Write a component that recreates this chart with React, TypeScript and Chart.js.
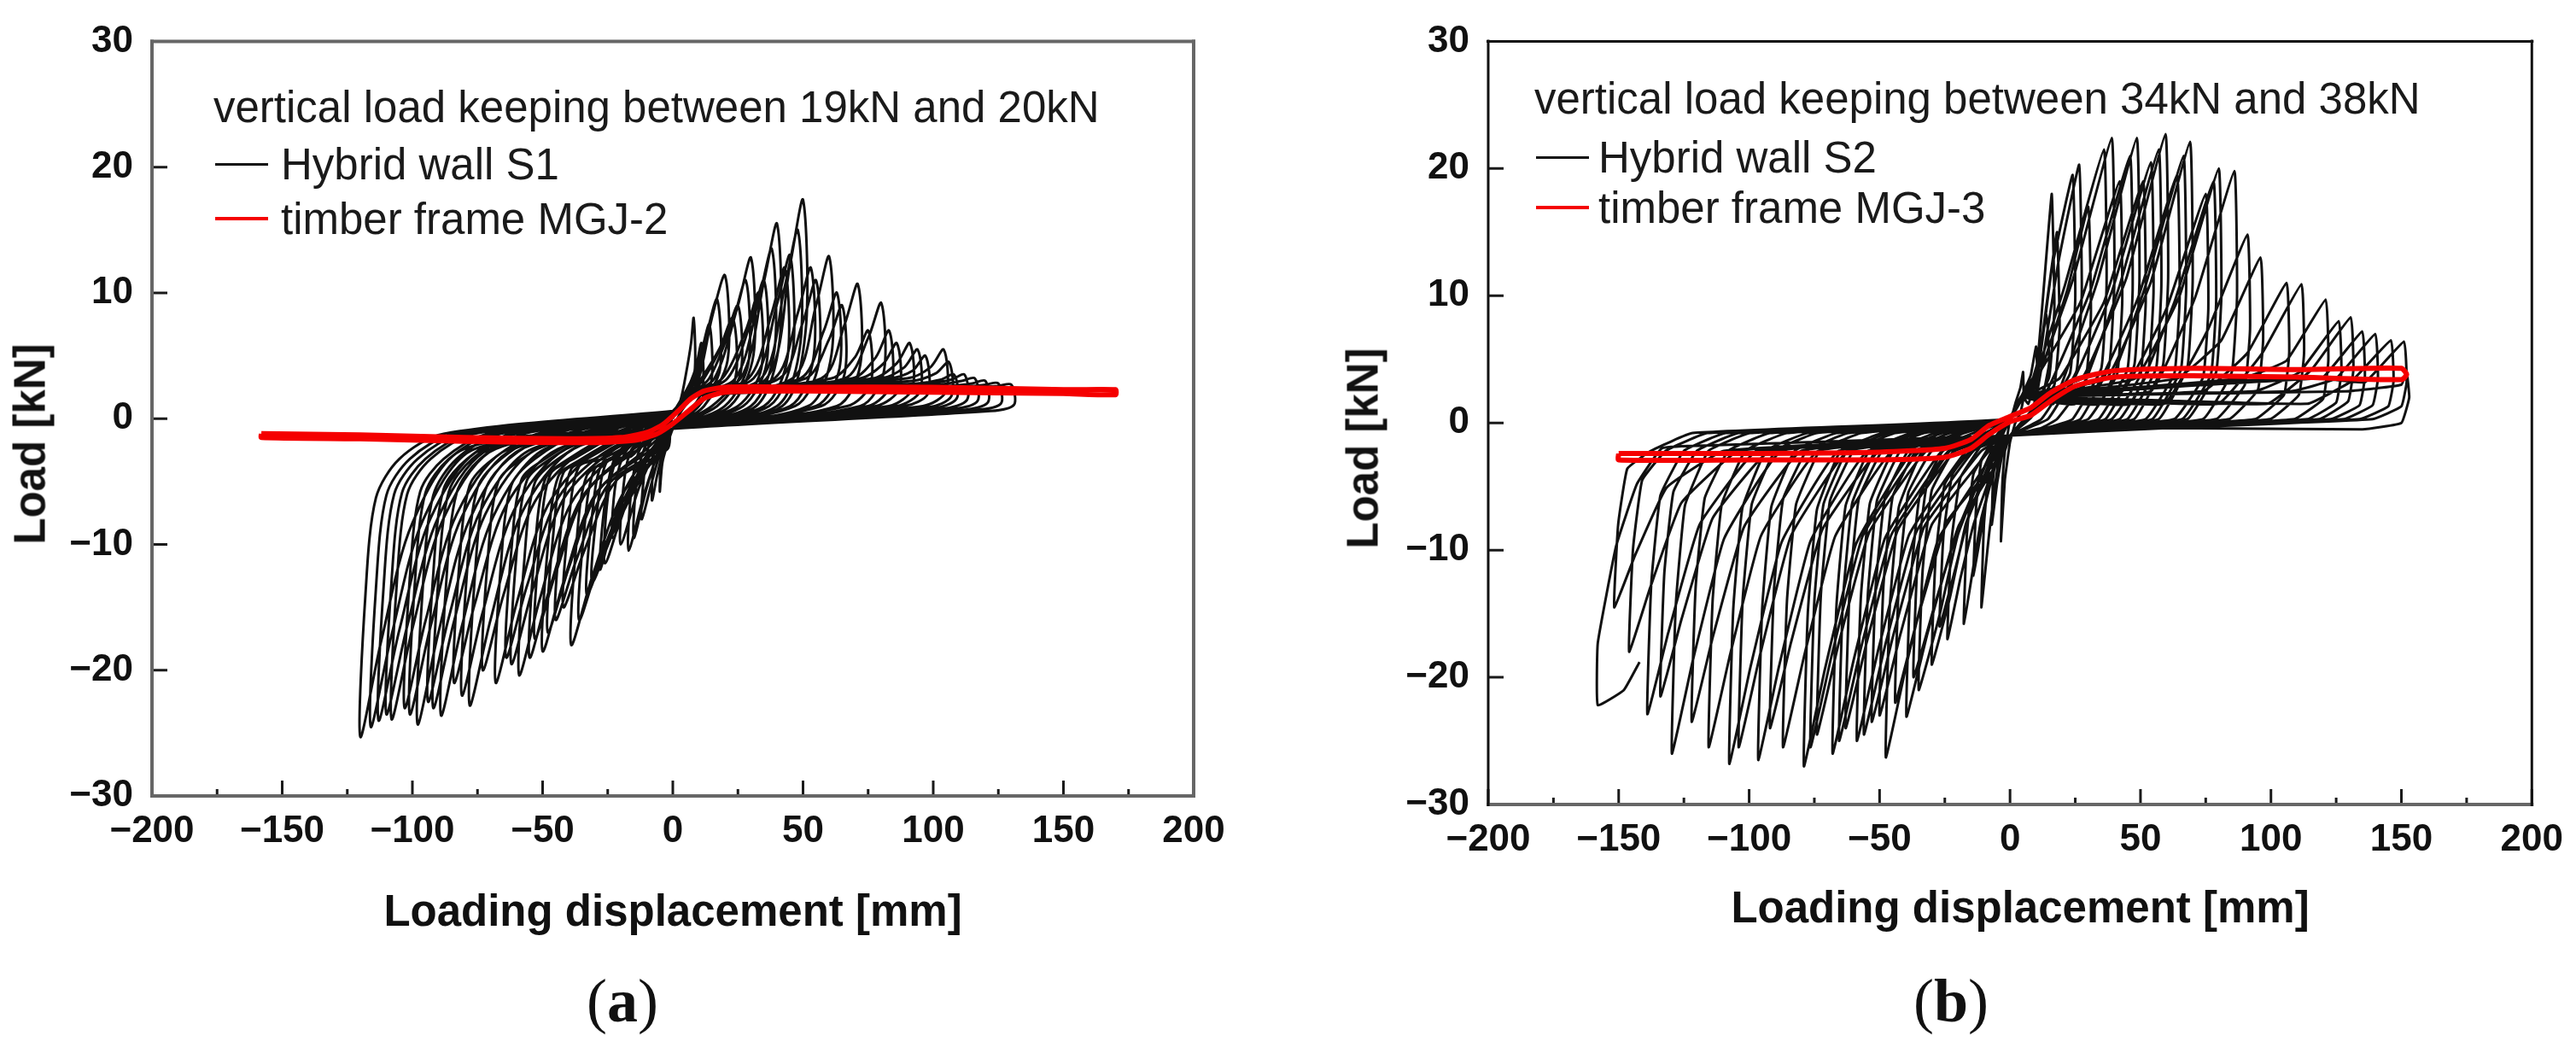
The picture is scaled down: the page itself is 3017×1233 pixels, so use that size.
import React, { useEffect, useRef } from 'react';
import Chart from 'chart.js/auto';

type Pt = [number, number];

// axis ticks, shared by both panels
const xTicks = [-200, -150, -100, -50, 0, 50, 100, 150, 200];
const xMinorTicks = [-175, -125, -75, -25, 25, 75, 125, 175];
const yTicks = [-30, -20, -10, 0, 10, 20, 30];

const legendTitleA = 'vertical load keeping between 19kN and 20kN';
const legendTitleB = 'vertical load keeping between 34kN and 38kN';
const seriesNamesA = ['Hybrid wall S1', 'timber frame MGJ-2'];
const seriesNamesB = ['Hybrid wall S2', 'timber frame MGJ-3'];

// (a) hybrid wall S1, one array per loading cycle [mm, kN]
const s1Cycles: Pt[][] = [
    [[0, 0], [3, 1.5], [5, 3.5], [7, 6], [8, 8], [8.5, 4], [6, 1.5], [3, 0.5], [0, -0.8], [-2, -2], [-4, -3.5], [-5, -5.8], [-4.5, -3], [-3, -1.5], [-1, -0.6], [0, 0.3]],
    [[4, 1.8], [7, 3], [9, 4.2], [11, 6], [11.5, 2.4], [8, 1], [0, -0.8], [-3, -2], [-6, -4.5], [-8, -6.5], [-7.5, -3.6], [-6, -1.6], [-3, -0.8], [0, 0.4]],
    [[4, 1.8], [8, 3.2], [11, 5.3], [14, 7.5], [14.8, 3], [9, 1], [0, -0.8], [-4, -2.2], [-8, -5], [-12, -8], [-11, -4.4], [-9, -2], [-5, -0.9], [0, 0.4]],
    [[5, 1.8], [9, 3.2], [13, 6.7], [17, 9.5], [18, 3.8], [10, 1], [0, -0.8], [-5, -2.3], [-10, -5.5], [-15, -9.5], [-14, -5.2], [-11, -2.4], [-6, -1], [0, 0.5]],
    [[6, 1.8], [10, 3.2], [15, 8], [20, 11.4], [21, 4.6], [12, 1], [0, -0.8], [-5, -2.4], [-11, -6], [-17, -10.5], [-16, -5.8], [-13, -2.6], [-7, -1], [0, 0.5]],
    [[6, 1.8], [11, 3.2], [18, 5.6], [23, 8], [24, 3.2], [15, 1], [0, -0.8], [-6, -2.4], [-13, -5.5], [-20, -10], [-19, -5.5], [-16, -2.5], [-8, -1], [0, 0.5]],
    [[6, 1.8], [12, 3.2], [20, 6.3], [25, 9], [26, 3.6], [17, 1], [0, -0.8], [-7, -2.4], [-15, -5.2], [-23, -9.5], [-22, -5.2], [-18, -2.6], [-9, -1], [0, 0.5]],
    [[6, 1.8], [14, 3.2], [23, 7.7], [28, 11], [29, 4.4], [20, 1], [0, -0.8], [-8, -2.4], [-17, -6], [-26, -11.5], [-25, -6.3], [-21, -3], [-11, -1.2], [0, 0.5]],
    [[6, 1.8], [16, 3.2], [25, 9], [30, 12.8], [31, 5.1], [22, 1], [0, -0.8], [-8, -2.4], [-18, -5.5], [-23, -8.4], [-28, -12], [-26, -6.6], [-22, -3], [-13, -1.2], [0, 0.6]],
    [[6, 1.8], [19, 3.2], [28, 7], [33, 10], [34, 4], [25, 1], [0, -0.8], [-3, -2.2], [-11, -4.3], [-23, -9.1], [-31, -13], [-29, -7.2], [-25, -3.3], [-16, -3], [-9, -1.2], [0, 0.6]],
    [[6, 1.8], [21, 3.2], [30, 7.7], [35, 11], [36, 4.4], [27, 1], [0, -0.8], [-3, -2.2], [-13, -4.6], [-25, -9.8], [-33, -14], [-31, -7.7], [-27, -3.5], [-18, -3], [-10, -1.2], [0, 0.6]],
    [[6, 1.8], [24, 3.2], [33, 9.5], [38, 13.5], [39, 5.4], [30, 1], [0, -0.8], [-3, -2.2], [-16, -5.3], [-28, -11.2], [-36, -16], [-34, -8.8], [-30, -4], [-21, -3], [-11, -1.2], [0, 0.6]],
    [[6, 1.8], [26, 3.2], [35, 10.9], [40, 15.5], [41, 6.2], [32, 1], [0, -0.8], [-3, -2.2], [-19, -5.9], [-31, -12.6], [-39, -18], [-37, -9.9], [-33, -4.5], [-24, -3.2], [-12, -1.2], [0, 0.6]],
    [[6, 1.8], [29, 3.2], [38, 8.4], [43, 12], [44, 4.8], [35, 1], [0, -0.8], [-2, -2.4], [-22, -5], [-34, -10.5], [-42, -15], [-40, -8.3], [-36, -3.8], [-27, -3.2], [-10, -1.2], [0, 0.6]],
    [[6, 1.8], [31, 3.2], [40, 9.1], [45, 13], [46, 5.2], [37, 1], [0, -0.8], [-5, -2.4], [-25, -5.3], [-37, -11.2], [-45, -16], [-43, -8.8], [-39, -4], [-30, -3.2], [-13, -1.2], [0, 0.6]],
    [[6, 1.8], [34, 3.2], [43, 10.5], [48, 15], [49, 6], [40, 1], [0, -0.8], [-8, -2.4], [-28, -5.6], [-40, -11.9], [-48, -17], [-46, -9.4], [-42, -4.3], [-33, -3.2], [-16, -1.2], [0, 0.6]],
    [[6, 1.8], [36, 3.2], [45, 12.2], [50, 17.4], [51, 7], [42, 1], [0, -0.8], [-10, -2.4], [-30, -6.1], [-42, -13], [-50, -18.5], [-48, -10.2], [-44, -4.6], [-35, -3.2], [-18, -1.2], [0, 0.6]],
    [[6, 1.8], [39, 3.2], [48, 8.4], [53, 12], [54, 4.8], [45, 1], [0, -0.8], [-13, -2.4], [-33, -5.8], [-45, -12.3], [-53, -17.5], [-51, -9.6], [-47, -4.4], [-38, -3.2], [-21, -1.2], [0, 0.6]],
    [[6, 1.8], [41, 3.2], [50, 7.7], [55, 11], [56, 4.4], [47, 1], [0, -0.8], [-15, -2.4], [-35, -6.3], [-47, -13.3], [-55, -19], [-53, -10.5], [-49, -4.8], [-40, -3.2], [-23, -1.2], [0, 0.6]],
    [[6, 1.8], [46, 3.2], [55, 9], [60, 12.9], [61, 5.2], [52, 1], [0, -0.8], [-19, -2.4], [-39, -6.7], [-51, -14.3], [-59, -20.4], [-57, -11.2], [-53, -5.1], [-44, -3.2], [-27, -1.2], [0, 0.6]],
    [[6, 1.8], [49, 3.2], [58, 7], [63, 10], [64, 4], [55, 1], [0, -0.8], [-22, -2.4], [-42, -6.4], [-54, -13.7], [-62, -19.5], [-60, -10.7], [-56, -4.9], [-47, -3.2], [-30, -1.2], [0, 0.6]],
    [[6, 1.8], [51, 3.2], [60, 6.3], [65, 9], [66, 3.6], [57, 1], [0, -0.8], [-24, -2.4], [-44, -6.3], [-56, -13.3], [-64, -19], [-62, -10.5], [-58, -4.8], [-49, -3.2], [-32, -1.2], [0, 0.6]],
    [[6, 1.8], [57, 3.2], [66, 7.5], [71, 10.7], [72, 4.3], [63, 1], [0, -0.8], [-28, -2.4], [-48, -6.9], [-60, -14.7], [-68, -21], [-66, -11.6], [-62, -5.3], [-53, -3.2], [-36, -1.2], [0, 0.6]],
    [[6, 1.8], [61, 3.2], [70, 4.9], [75, 7], [76, 2.8], [67, 1], [0, -0.8], [-33, -2.4], [-53, -6.6], [-65, -14], [-73, -20], [-71, -11], [-67, -5], [-58, -3.2], [-41, -1.2], [0, 0.6]],
    [[6, 1.8], [66, 3.2], [75, 6.4], [80, 9.2], [81, 3.7], [72, 1], [0, -0.8], [-38, -2.4], [-58, -7.5], [-70, -16], [-78, -22.8], [-76, -12.5], [-72, -5.7], [-63, -3.2], [-46, -1.2], [0, 0.6]],
    [[6, 1.8], [69, 3.2], [78, 4.9], [83, 7], [84, 2.8], [75, 1], [0, -0.8], [-41, -2.4], [-61, -7.3], [-73, -15.4], [-81, -22], [-79, -12.1], [-75, -5.5], [-66, -3.2], [-49, -1.2], [0, 0.6]],
    [[6, 1.8], [72, 3.2], [81, 4.4], [86, 6], [87, 2.4], [78, 1], [0, -0.8], [-44, -2.4], [-64, -6.9], [-76, -14.7], [-84, -21], [-82, -11.6], [-78, -5.3], [-69, -3.2], [-52, -1.2], [0, 0.6]],
    [[6, 1.8], [77, 3.2], [86, 4.4], [91, 6], [92, 2.4], [83, 1], [0, -0.8], [-49, -2.4], [-69, -7.8], [-81, -16.5], [-89, -23.6], [-87, -13], [-83, -5.9], [-74, -3.2], [-57, -1.2], [0, 0.6]],
    [[6, 1.8], [80, 3.2], [89, 4.1], [94, 5.5], [95, 2.2], [86, 1], [0, -0.8], [-52, -2.4], [-72, -7.6], [-84, -16.1], [-92, -23], [-90, -12.7], [-86, -5.8], [-77, -3.2], [-60, -1.2], [0, 0.6]],
    [[6, 1.8], [83, 3.2], [92, 3.8], [97, 5], [98, 2], [89, 1], [0, -0.8], [-54, -2.4], [-74, -7.4], [-86, -15.8], [-94, -22.5], [-92, -12.4], [-88, -5.6], [-79, -3.2], [-62, -1.2], [0, 0.6]],
    [[6, 1.8], [90, 3.2], [99, 4.1], [104, 5.5], [105, 2.2], [96, 1], [0, -0.8], [-58, -2.4], [-78, -8], [-90, -17], [-98, -24.3], [-96, -13.4], [-92, -6.1], [-83, -3.2], [-66, -1.2], [0, 0.6]],
    [[6, 1.8], [92, 3], [101, 3.6], [106, 4.5], [107, 1.8], [98, 0.9], [0, -0.8], [-61, -2.4], [-81, -7.8], [-93, -16.5], [-101, -23.5], [-99, -12.9], [-95, -5.9], [-86, -3.2], [-69, -1.2], [0, 0.6]],
    [[6, 1.8], [94, 2.8], [103, 3.1], [108, 3.5], [109, 1.6], [100, 0.8], [0, -0.8], [-63, -2.4], [-83, -7.6], [-95, -16.1], [-103, -23], [-101, -12.7], [-97, -5.8], [-88, -3.2], [-71, -1.2], [0, 0.6]],
    [[6, 1.8], [98, 2.8], [107, 3.1], [112, 3.5], [113, 1.5], [104, 0.8], [0, -0.8], [-68, -2.4], [-88, -7.9], [-100, -16.7], [-108, -23.9], [-106, -13.1], [-102, -6], [-93, -3.2], [-76, -1.2], [0, 0.6]],
    [[6, 1.8], [102, 2.7], [111, 3], [116, 3.2], [117, 1.4], [108, 0.8], [0, -0.8], [-70, -2.4], [-90, -7.8], [-102, -16.5], [-110, -23.5], [-108, -12.9], [-104, -5.9], [-95, -3.2], [-78, -1.2], [0, 0.6]],
    [[6, 1.8], [106, 2.6], [115, 2.8], [120, 3], [121, 1.3], [112, 0.7], [0, -0.8], [-73, -2.4], [-93, -7.9], [-105, -16.8], [-113, -24], [-111, -13.2], [-107, -6], [-98, -3.2], [-81, -1.2], [0, 0.6]],
    [[6, 1.8], [111, 2.5], [120, 2.7], [125, 2.8], [126, 1.2], [117, 0.7], [0, -0.8], [-76, -2.4], [-96, -8.1], [-108, -17.2], [-116, -24.5], [-114, -13.5], [-110, -6.1], [-101, -3.2], [-84, -1.2], [0, 0.6]],
    [[6, 1.8], [116, 2.5], [125, 2.6], [130, 2.7], [131, 1.1], [122, 0.6], [0, -0.8], [-80, -2.4], [-100, -8.3], [-112, -17.7], [-120, -25.3], [-118, -13.9], [-114, -6.3], [-105, -3.2], [-88, -1.2], [0, 0.6]],
];

// (a) timber frame MGJ-2
const mgj2Curve: Pt[] = [
    [-158, -1.2], [-120, -1.3], [-80, -1.5], [-40, -1.6], [-20, -1.5], [-10, -1.1], [-4, -0.5], [2, 0.6], [7, 1.6], [12, 2.2], [20, 2.5],
    [50, 2.5], [100, 2.5], [150, 2.3], [170, 2.3], [170, 1.9], [150, 2.0], [100, 2.1], [50, 2.2], [20, 2.1], [12, 1.6], [6, 0.6],
    [0, -0.4], [-6, -1.2], [-14, -1.7], [-30, -1.9], [-80, -1.8], [-120, -1.6], [-158, -1.5], [-158, -1.2],
];

// (b) hybrid wall S2
const s2Cycles: Pt[][] = [
    [[0, 0], [2, 1.5], [4, 2.8], [5, 4], [5.2, 2], [4, 0.8], [2, 0], [0, -1.5], [-2, -4.5], [-3.5, -9.3], [-3, -5], [-2, -2.3], [-1, -1], [0, 0.3]],
    [[3, 1.5], [6, 2.8], [8, 3.8], [10, 6], [10.5, 3.3], [9, 1.2], [5, 0.2], [0, -1], [-3, -2.5], [-5, -4.8], [-7, -8], [-6.5, -4.4], [-5, -2], [-3, -1], [0, 0.3]],
    [[3, 1.5], [8, 3], [11, 5.1], [14, 8.5], [15, 4.7], [12, 1.7], [6, 0.3], [0, -1], [-4, -2.5], [-8, -8.7], [-11, -14.5], [-10, -8], [-8, -3.6], [-4, -1.2], [0, 0.4]],
    [[4, 2], [10, 4], [13, 10.8], [16, 18], [17, 9], [15, 3.6], [7, 0.4], [0, -1], [-4, -2.2], [-9, -6], [-14, -12], [-13, -6.6], [-11, -3], [-5, -1.2], [0, 0.4]],
    [[4, 2], [10, 3.5], [14, 9.3], [18, 15], [19, 7.5], [17, 3], [8, 0.4], [0, -1], [-4, -2.2], [-11, -7.5], [-17.7, -15.8], [-16.5, -8.7], [-14, -4], [-6, -1.2], [0, 0.4]],
    [[5, 2], [10, 3], [16, 12.1], [24, 19.5], [25, 9.8], [23, 3.9], [12, 0.3], [0, -1], [-4, -2.2], [-14, -8], [-19, -12.2], [-24, -17], [-22.5, -9.4], [-19, -4.3], [-9, -1.2], [0, 0.4]],
    [[5, 2], [10, 2], [18.5, 12.6], [26.5, 20.3], [27.5, 10.2], [25.5, 4.1], [14.5, 0.3], [0, -1], [-5, -2.2], [-16, -7.5], [-21, -11.5], [-27, -16], [-25.5, -8.8], [-22, -4], [-11, -1.2], [0, 0.4]],
    [[5, 2], [10, 3], [22, 10.5], [30, 17], [31, 8.5], [29, 3.4], [18, 0.3], [12, -0.4], [0, -1], [-6, -2.2], [-17, -8], [-23, -13.7], [-30, -19], [-28.5, -10.5], [-25, -4.8], [-14, -1.5], [0, 0.3]],
    [[5, 2], [8, 2.5], [21, 10.8], [36, 21.5], [37, 10.8], [35, 4.3], [24, 0.3], [14, -0.4], [0, -1], [-7, -2.2], [-20, -8.8], [-27, -15.1], [-35, -21], [-33.5, -11.6], [-30, -5.3], [-21, -2], [-8, -0.8], [0, 0.3]],
    [[5, 2], [7, 1.5], [24, 11.2], [39, 22.4], [40, 11.2], [38, 4.5], [27, 0.3], [16, -0.4], [0, -1], [-7, -2.2], [-20, -8.4], [-29, -14.4], [-37, -20], [-35.5, -11], [-32, -5], [-23, -2.2], [-9, -0.8], [0, 0.3]],
    [[5, 2], [10, 3.5], [27, 9.5], [42, 19], [43, 9.5], [41, 3.8], [30, 0.3], [17, -0.4], [0, -1], [-2, -2.2], [-19.7, -8.1], [-31.7, -16.6], [-39.7, -23.1], [-38.2, -12.7], [-34.7, -5.8], [-25.7, -2.2], [-9.7, -0.8], [0, 0.3]],
    [[5, 2], [14, 2.5], [31, 10.5], [46, 21], [47, 10.5], [45, 4.2], [34, 0.3], [18, -0.4], [0, -1], [-2, -2.2], [-24, -7.7], [-36, -15.8], [-44, -22], [-42.5, -12.1], [-39, -5.5], [-30, -2.2], [-14, -0.8], [0, 0.3]],
    [[5, 2], [16.6, 1.5], [33.6, 11.2], [48.6, 22.4], [49.6, 11.2], [47.6, 4.5], [36.6, 0.3], [19.4, -0.4], [0, -1], [-5.6, -2.2], [-27.6, -9.2], [-39.6, -18.9], [-47.6, -26.3], [-46.1, -14.5], [-42.6, -6.6], [-33.6, -2.2], [-17.6, -0.8], [0, 0.3]],
    [[5, 2], [19, 3.5], [36, 9.5], [51, 19], [52, 9.5], [50, 3.8], [39, 0.3], [20, -0.4], [0, -1], [-8, -2.2], [-30, -8], [-42, -16.6], [-50, -23], [-48.5, -12.7], [-45, -5.8], [-36, -2.2], [-20, -0.8], [0, 0.3]],
    [[5, 2], [22, 2.5], [39, 10.3], [54, 20.5], [55, 10.3], [53, 4.1], [42, 0.3], [22, -0.4], [0, -1], [-11, -2.2], [-33, -8.2], [-45, -16.9], [-53, -23.5], [-51.5, -12.9], [-48, -5.9], [-39, -2.2], [-23, -0.8], [0, 0.3]],
    [[5, 2], [25, 1.5], [42, 10.8], [57, 21.5], [58, 10.8], [56, 4.3], [45, 0.3], [23, -0.4], [0, -1], [-14, -2.2], [-36, -8.6], [-48, -17.6], [-56, -24.5], [-54.5, -13.5], [-51, -6.1], [-42, -2.2], [-26, -0.8], [0, 0.3]],
    [[5, 2], [27.6, 3.5], [44.6, 11.4], [59.6, 22.7], [60.6, 11.4], [58.6, 4.5], [47.6, 0.3], [24, -0.4], [0, -1], [-16.7, -2.2], [-38.7, -8.8], [-50.7, -18], [-58.7, -25], [-57.2, -13.8], [-53.7, -6.3], [-44.7, -2.2], [-28.7, -0.8], [0, 0.3]],
    [[5, 2], [32, 2.5], [49, 9.8], [64, 19.5], [65, 9.8], [63, 3.9], [52, 0.3], [26, -0.4], [0, -1], [-21, -2.2], [-43, -8.4], [-55, -17.3], [-63, -24], [-61.5, -13.2], [-58, -6], [-49, -2.2], [-33, -0.8], [0, 0.3]],
    [[5, 2], [34.5, 1.5], [51.5, 10.5], [66.5, 21], [67.5, 10.5], [65.5, 4.2], [54.5, 0.3], [27, -0.4], [0, -1], [-23.5, -2.2], [-45.5, -8.8], [-57.5, -18], [-65.5, -25], [-64, -13.8], [-60.5, -6.3], [-51.5, -2.2], [-35.5, -0.8], [0, 0.3]],
    [[5, 2], [37, 3.5], [54, 11.1], [69, 22.1], [70, 11.1], [68, 4.4], [57, 0.3], [28, -0.4], [0, -1], [-26, -2.2], [-48, -9.1], [-60, -18.7], [-68, -26], [-66.5, -14.3], [-63, -6.5], [-54, -2.2], [-38, -0.8], [0, 0.3]],
    [[5, 2], [43, 2.5], [60, 9], [75, 18], [76, 9], [74, 3.6], [63, 0.3], [30, -0.4], [0, -1], [-32, -2.2], [-54, -8.6], [-66, -17.6], [-74, -24.5], [-72.5, -13.5], [-69, -6.1], [-60, -2.2], [-44, -0.8], [0, 0.3]],
    [[5, 2], [46, 1.5], [63, 9.5], [78, 19], [79, 9.5], [77, 3.8], [66, 0.3], [31, -0.4], [0, -1], [-34.5, -2.2], [-56.5, -8.9], [-68.5, -18.4], [-76.5, -25.5], [-75, -14], [-71.5, -6.4], [-62.5, -2.2], [-46.5, -0.8], [0, 0.3]],
    [[5, 2], [48, 3.5], [65, 10], [80, 20], [81, 10], [79, 4], [68, 0.3], [32, -0.4], [0, -1], [-37, -2.2], [-59, -9.5], [-71, -19.4], [-79, -27], [-77.5, -14.9], [-74, -6.8], [-65, -2.2], [-49, -0.8], [0, 0.3]],
    [[5, 2], [54, 2.5], [71, 9.9], [86, 19.8], [87, 9.9], [85, 4], [74, 0.3], [34, -0.4], [0, -1], [-45, -2.2], [-67, -8.9], [-79, -18.4], [-87, -25.5], [-85.5, -14], [-82, -6.4], [-73, -2.2], [-57, -0.8], [0, 0.3]],
    [[5, 2], [59, 1.5], [76, 7.4], [91, 14.8], [92, 7.4], [90, 3], [79, 0.3], [36, -0.4], [0, -1], [-50, -2.2], [-72, -8.4], [-84, -17.3], [-92, -24], [-90.5, -13.2], [-87, -6], [-78, -2.2], [-62, -0.8], [0, 0.3]],
    [[5, 2], [64, 3.5], [81, 6.5], [96, 13], [97, 6.5], [95, 2.6], [84, 0.3], [38, -0.4], [0, -1], [-54.5, -2.2], [-76.5, -9.3], [-88.5, -19.1], [-96.5, -26.5], [-95, -14.6], [-91.5, -6.6], [-82.5, -2.2], [-66.5, -0.8], [0, 0.3]],
    [[5, 2], [74, 2.5], [91, 5.5], [106, 11], [107, 5.5], [105, 2.2], [94, 0.3], [42, -0.4], [0, -1], [-62, -2.2], [-84, -8.9], [-96, -18.4], [-104, -25.5], [-102.5, -14], [-99, -6.4], [-90, -2.2], [-74, -0.8], [0, 0.3]],
    [[5, 2], [79.7, 1.5], [96.7, 5.5], [111.7, 10.9], [112.7, 5.5], [110.7, 2.2], [99.7, 0.3], [45, -0.4], [0, -1], [-65.6, -2.2], [-87.6, -9.4], [-99.6, -19.3], [-107.6, -26.8], [-106.1, -14.7], [-102.6, -6.7], [-93.6, -2.2], [-77.6, -0.8], [0, 0.3]],
    [[5, 2], [89, 3.5], [106, 4.9], [121, 9.7], [122, 4.9], [120, 1.9], [109, 0.3], [48, -0.4], [0, -1], [-73.5, -2.2], [-95.5, -8.9], [-107.5, -18.4], [-115.5, -25.5], [-114, -14], [-110.5, -6.4], [-101.5, -2.2], [-85.5, -0.8], [0, 0.3]],
    [[5, 2], [94, 2.5], [111, 4], [126, 8], [127, 4], [125, 1.6], [114, 0.3], [50, -0.4], [0, -1], [-80, -2.2], [-102, -8.2], [-114, -16.9], [-122, -23.5], [-120.5, -12.9], [-117, -5.9], [-108, -2.2], [-92, -0.8], [0, 0.3]],
    [[5, 2], [98.6, 1.5], [115.6, 4.2], [130.6, 8.3], [131.6, 4.2], [129.6, 1.7], [118.6, 0.3], [52, -0.4], [0, -1], [-87.6, -2.2], [-109.6, -9.1], [-121.6, -18.7], [-129.6, -26], [-128.1, -14.3], [-124.6, -6.5], [-115.6, -2.2], [-99.6, -0.8], [0, 0.3]],
    [[5, 2], [103, 3.5], [120, 3.6], [135, 7.2], [136, 3.6], [134, 1.4], [123, 0.3], [54, -0.4], [0, -1], [-92, -2.2], [-114, -7.5], [-126, -15.5], [-134, -21.5], [-132.5, -11.8], [-129, -5.4], [-120, -2.2], [-104, -0.8], [0, 0.3]],
    [[5, 2], [108, 2.5], [125, 3.5], [140, 7], [141, 3.5], [139, 1.4], [128, 0.3], [56, -0.4], [0, -1], [-97, -2.2], [-119, -8], [-131, -16.5], [-139, -22.9], [-137.5, -12.6], [-134, -5.7], [-125, -2.2], [-109, -0.8], [0, 0.3]],
    [[5, 2], [114, 1.5], [131, 3.3], [146, 6.5], [147, 3.3], [145, 1.3], [134, 0.3], [58, -0.4], [0, -1], [-104, -2.2], [-126, -6.3], [-138, -13], [-146, -18], [-144.5, -9.9], [-141, -4.5], [-132, -2.2], [-116, -0.8], [0, 0.3]],
    [[5, 2], [119, 3.5], [136, 3.2], [151, 6.4], [152, 3.2], [150, 1.3], [139, 0.3], [60, -0.4], [0, -1], [-109.7, -2.2], [-131.7, -5.1], [-143.7, -10.4], [-151.7, -14.5], [-150.2, -8], [-146.7, -3.6], [-137.7, -2.2], [-121.7, -0.8], [0, 0.3]],
    [[5, 2], [130, 2.5], [150, 3], [152, 4], [153, 2], [150, 0], [135, -0.5], [60, -0.4], [0, -1], [-120, -1.8], [-133.5, -2], [-143, -4.8], [-151, -9.7], [-158, -17.3], [-158, -22.2], [-148, -21], [-142, -18.8]],
];

// (b) timber frame MGJ-3
const mgj3Curve: Pt[] = [
    [-150, -2.4], [-100, -2.4], [-50, -2.3], [-25, -2.0], [-15, -1.3], [-8, -0.2], [0, 0.5], [8, 1.2], [15, 2.3], [25, 3.4], [40, 4.1],
    [70, 4.3], [110, 4.2], [150, 4.3], [152, 3.8], [150, 3.4], [110, 3.6], [70, 3.7], [40, 3.6], [25, 2.9], [16, 1.8], [8, 0.6],
    [0, 0.1], [-8, -0.9], [-15, -2.0], [-25, -2.7], [-50, -2.9], [-100, -2.9], [-150, -2.9], [-150, -2.4],
];

const SANS = '"Liberation Sans", Arial, sans-serif';

type Area = { left: number; top: number; right: number; bottom: number };
type Side = [string, number];
type Frame = { top: Side; left: Side; right: Side; bottom: Side };

const fmt = (v: number | string) => {
    const n = Number(v);
    return n < 0 ? '\u2212' + Math.abs(n) : String(n);
};

const toXY = (pts: Pt[]) => pts.map(([x, y]) => ({ x, y }));

type PanelProps = {
    cycles: Pt[][];
    timber: Pt[];
    left: number;
    width: number;
    height: number;
    area: Area;
    frame: Frame;
    tension: number;
};

const Panel = ({ cycles, timber, left, width, height, area, frame, tension }: PanelProps) => {
    const chartRef = useRef<HTMLCanvasElement>(null);

    useEffect(() => {
        // frame and inward ticks, drawn on the library's scales
        const frameTicks = {
            id: 'frameTicks',
            afterDraw(chart: any) {
                const { ctx, chartArea: ca } = chart;
                const xs = chart.scales.x;
                const ys = chart.scales.y;
                ctx.save();
                ctx.strokeStyle = '#1a1a1a';
                ctx.lineWidth = 3;
                ctx.beginPath();
                xTicks.forEach((v) => {
                    const px = xs.getPixelForValue(v);
                    ctx.moveTo(px, ca.bottom);
                    ctx.lineTo(px, ca.bottom - 18);
                });
                xMinorTicks.forEach((v) => {
                    const px = xs.getPixelForValue(v);
                    ctx.moveTo(px, ca.bottom);
                    ctx.lineTo(px, ca.bottom - 8);
                });
                yTicks.forEach((v) => {
                    const py = ys.getPixelForValue(v);
                    ctx.moveTo(ca.left, py);
                    ctx.lineTo(ca.left + 18, py);
                });
                ctx.stroke();

                const side = (c: Side, x1: number, y1: number, x2: number, y2: number) => {
                    ctx.strokeStyle = c[0];
                    ctx.lineWidth = c[1];
                    ctx.beginPath();
                    ctx.moveTo(x1, y1);
                    ctx.lineTo(x2, y2);
                    ctx.stroke();
                };
                side(frame.top, ca.left - 2, ca.top, ca.right + 2, ca.top);
                side(frame.bottom, ca.left - 2, ca.bottom, ca.right + 2, ca.bottom);
                side(frame.left, ca.left, ca.top - 2, ca.left, ca.bottom + 2);
                side(frame.right, ca.right, ca.top - 2, ca.right, ca.bottom + 2);
                ctx.restore();
            },
        };

        const tickFont = { family: SANS, size: 44, weight: 'bold' as const };

        const chartInstance = new Chart(chartRef.current!, {
            type: 'scatter',
            data: {
                datasets: [
                    {
                        label: 'timber',
                        data: toXY(timber),
                        showLine: true,
                        borderColor: 'rgb(245, 0, 0)',
                        borderWidth: 6,
                        pointRadius: 0,
                        tension: 0.2,
                        order: 0,
                    },
                    {
                        label: 'hybrid',
                        data: toXY(cycles.flat()),
                        showLine: true,
                        borderColor: '#111',
                        borderWidth: 3,
                        pointRadius: 0,
                        tension,
                        order: 1,
                    },
                ],
            },
            options: {
                animation: false,
                responsive: false,
                devicePixelRatio: 1,
                layout: {
                    autoPadding: false,
                    padding: { left: 0, top: area.top, right: width - area.right, bottom: 0 },
                },
                plugins: {
                    legend: { display: false },
                    tooltip: { enabled: false },
                },
                scales: {
                    x: {
                        type: 'linear',
                        min: -200,
                        max: 200,
                        afterBuildTicks: (ax: any) => {
                            ax.ticks = xTicks.map((v) => ({ value: v }));
                        },
                        afterFit: (ax: any) => {
                            ax.height = height - area.bottom;
                        },
                        grid: { display: false, drawTicks: false },
                        border: { display: false },
                        ticks: {
                            padding: 15,
                            color: '#111',
                            font: tickFont,
                            autoSkip: false,
                            maxRotation: 0,
                            callback: (v) => fmt(v),
                        },
                    },
                    y: {
                        type: 'linear',
                        min: -30,
                        max: 30,
                        afterBuildTicks: (ax: any) => {
                            ax.ticks = yTicks.map((v) => ({ value: v }));
                        },
                        afterFit: (ax: any) => {
                            ax.width = area.left;
                        },
                        grid: { display: false, drawTicks: false },
                        border: { display: false },
                        ticks: {
                            padding: 22,
                            color: '#111',
                            font: tickFont,
                            autoSkip: false,
                            callback: (v) => fmt(v),
                        },
                    },
                },
            },
            plugins: [frameTicks],
        });

        return () => {
            chartInstance.destroy();
        };
    }, []);

    return (
        <canvas
            ref={chartRef}
            width={width}
            height={height}
            style={{ position: 'absolute', left, top: 0, width, height }}
        />
    );
};

const textAt = (x: number, y: number, text: string, style: React.CSSProperties, center = false) => (
    <div
        style={{
            position: 'absolute',
            left: x,
            top: y,
            transform: center ? 'translate(-50%, -50%)' : 'translateY(-50%)',
            whiteSpace: 'nowrap',
            lineHeight: 1,
            ...style,
        }}
    >
        {text}
    </div>
);

const legendStyle: React.CSSProperties = { fontFamily: SANS, fontSize: 51, color: '#1a1a1a' };
const titleStyle: React.CSSProperties = { fontFamily: SANS, fontSize: 51, fontWeight: 'bold', color: '#111' };
const capStyle: React.CSSProperties = { fontFamily: '"Liberation Serif", "Times New Roman", serif', fontSize: 72, color: '#111' };

const swatch = (x: number, y: number, color: string, h: number) => (
    <div style={{ position: 'absolute', left: x, top: y - h / 2, width: 62, height: h, background: color }} />
);

const App = () => {
    useEffect(() => {
        document.body.style.margin = '0';
    }, []);

    return (
        <div style={{ position: 'relative', width: 3017, height: 1233, background: '#fff', overflow: 'hidden' }}>
            <Panel
                cycles={s1Cycles}
                timber={mgj2Curve}
                left={0}
                width={1480}
                height={1030}
                area={{ left: 178, top: 35, right: 1398, bottom: 932 }}
                frame={{ top: ['#666', 4], left: ['#666', 4], right: ['#666', 4], bottom: ['#666', 4] }}
                tension={0.3}
            />
            <Panel
                cycles={s2Cycles}
                timber={mgj3Curve}
                left={1560}
                width={1457}
                height={1040}
                area={{ left: 183, top: 39, right: 1411, bottom: 942 }}
                frame={{ top: ['#111', 3], left: ['#111', 3], right: ['#111', 3], bottom: ['#666', 4] }}
                tension={0.1}
            />

            {textAt(250, 125, legendTitleA, legendStyle)}
            {swatch(252, 192, '#111', 3)}
            {textAt(329, 192, seriesNamesA[0], legendStyle)}
            {swatch(252, 256, 'rgb(245, 0, 0)', 4)}
            {textAt(329, 256, seriesNamesA[1], legendStyle)}

            {textAt(1797, 115, legendTitleB, legendStyle)}
            {swatch(1799, 184, '#111', 3)}
            {textAt(1872, 184, seriesNamesB[0], legendStyle)}
            {swatch(1799, 243, 'rgb(245, 0, 0)', 4)}
            {textAt(1872, 243, seriesNamesB[1], legendStyle)}

            {textAt(788, 1066, 'Loading displacement [mm]', titleStyle, true)}
            {textAt(2366, 1062, 'Loading displacement [mm]', titleStyle, true)}
            <div style={{ position: 'absolute', left: 35, top: 520, transform: 'translate(-50%, -50%) rotate(-90deg)', whiteSpace: 'nowrap', lineHeight: 1, ...titleStyle }}>
                Load [kN]
            </div>
            <div style={{ position: 'absolute', left: 1596, top: 525, transform: 'translate(-50%, -50%) rotate(-90deg)', whiteSpace: 'nowrap', lineHeight: 1, ...titleStyle }}>
                Load [kN]
            </div>

            <div style={{ position: 'absolute', left: 729, top: 1172, transform: 'translate(-50%, -50%)', lineHeight: 1, ...capStyle }}>
                (<b>a</b>)
            </div>
            <div style={{ position: 'absolute', left: 2285, top: 1172, transform: 'translate(-50%, -50%)', lineHeight: 1, ...capStyle }}>
                (<b>b</b>)
            </div>
        </div>
    );
};

export default App;
